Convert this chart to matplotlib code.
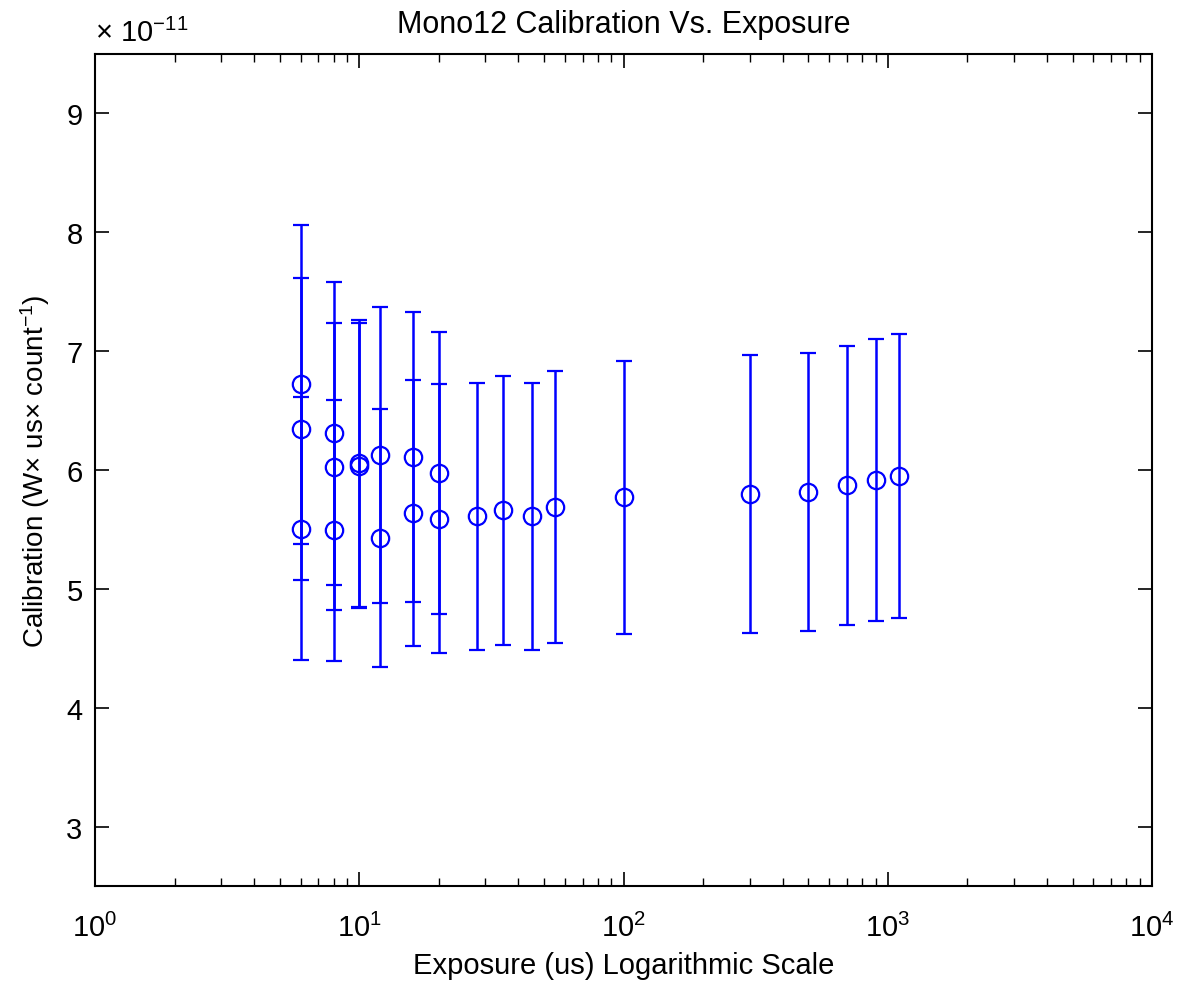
import matplotlib
matplotlib.use("Agg")
import matplotlib.pyplot as plt
from matplotlib.ticker import LogLocator, FixedLocator, NullFormatter
import numpy as np

# calibration in units of 1e-11 W*us/count
exposure_us = [6, 6, 6, 8, 8, 8, 10, 10, 12, 12, 16, 16, 20, 20,
               28, 35, 45, 55, 100, 300, 500, 700, 900, 1100]
calibration = [6.72, 6.347, 5.507, 6.308, 6.028, 5.493, 6.055, 6.035,
               6.126, 5.426, 6.109, 5.636, 5.977, 5.591,
               5.61, 5.66, 5.61, 5.69, 5.77, 5.80, 5.815, 5.87, 5.917, 5.95]
cal_error = [1.345, 1.269, 1.109, 1.272, 1.205, 1.10, 1.21, 1.20,
             1.244, 1.084, 1.221, 1.12, 1.185, 1.129,
             1.123, 1.135, 1.125, 1.145, 1.15, 1.168, 1.167, 1.176, 1.186, 1.195]

plt.rcParams['font.family'] = ['Liberation Sans', 'DejaVu Sans']
plt.rcParams['mathtext.fontset'] = 'custom'
plt.rcParams['mathtext.rm'] = 'Liberation Sans'
plt.rcParams['mathtext.it'] = 'Liberation Sans'
plt.rcParams['mathtext.default'] = 'regular'

fs = 21

fig = plt.figure(figsize=(11.85, 9.87), dpi=100)
ax = fig.add_axes([0.0802, 0.1013, 0.892, 0.843])

ax.errorbar(exposure_us, calibration, yerr=cal_error, fmt='o', color='#0000ff',
            mfc='none', mec='#0000ff', ms=12.5, mew=1.6, elinewidth=1.8,
            capsize=6, capthick=1.8, linestyle='none')

ax.set_xscale('log')
ax.set_xlim(1, 1e4)
ax.set_ylim(2.5, 9.5)
ax.yaxis.set_major_locator(FixedLocator([3, 4, 5, 6, 7, 8, 9]))
ax.xaxis.set_major_locator(LogLocator(base=10, numticks=10))
ax.xaxis.set_minor_locator(LogLocator(base=10, subs=np.arange(2, 10), numticks=20))
ax.xaxis.set_minor_formatter(NullFormatter())

ax.tick_params(which='both', direction='in', top=True, right=True, labelsize=fs)
ax.tick_params(which='major', length=10, width=1.2)
ax.tick_params(which='minor', length=6, width=1.0)
ax.tick_params(axis='x', pad=19)
ax.tick_params(axis='y', pad=9)
for s in ax.spines.values():
    s.set_linewidth(1.5)

ax.set_title('Mono12 Calibration Vs. Exposure', fontsize=22, pad=16)
ax.set_xlabel('Exposure (us) Logarithmic Scale', fontsize=fs, labelpad=7)
ax.set_ylabel('Calibration (W\u00d7 us\u00d7 count$^{-1}$)', fontsize=20, labelpad=10)
ax.text(0, 1.0156, '\u00d7 10$^{-11}$', transform=ax.transAxes, fontsize=fs,
        ha='left', va='baseline')

fig.savefig('out.png', dpi=100, facecolor='white')
